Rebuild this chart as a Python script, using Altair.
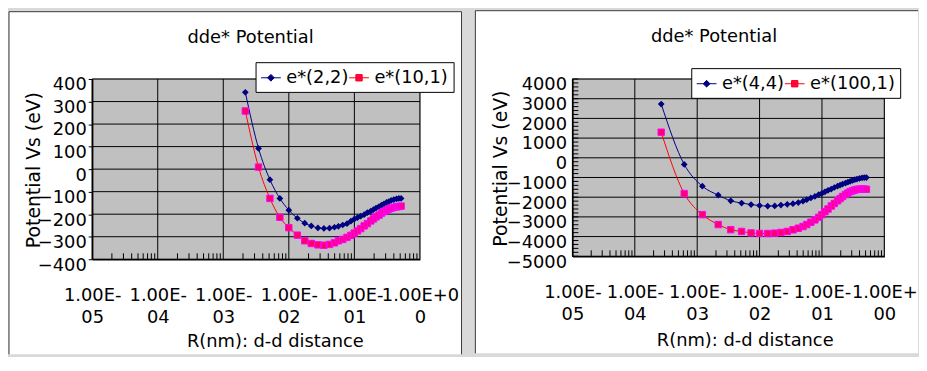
import altair as alt
import pandas as pd

FONT = "DejaVu Sans"
NAVY = "#000080"
RED = "#ff0000"
PINK = "#ff0066"
MAGENTA = "#ff00ff"

# ---------------- data ----------------
R_nm = [2.65e-4, 6.2e-4, 1.21e-3, 2.17e-3, 3.45e-3, 5.15e-3, 7.3e-3, 0.01, 0.0135,
        0.0175, 0.022, 0.0278, 0.0343, 0.0418, 0.0497, 0.0571, 0.0664, 0.0771,
        0.0885, 0.0995, 0.1117, 0.125, 0.141, 0.158, 0.178, 0.195, 0.214, 0.238,
        0.26, 0.283, 0.31, 0.336, 0.364, 0.40, 0.44, 0.477, 0.516]

left_names = ["e*(2,2)", "e*(10,1)"]
left_R = R_nm[3:]
left_blue = [341, 92, -47, -130, -182, -218, -240, -252, -261, -263, -262, -258,
             -254, -248, -242, -231, -222, -215, -209, -202, -193, -186, -180,
             -173, -166, -160, -154, -148, -144, -139, -135, -132, -130, -130]
left_pink = [258, 9, -130, -214, -260, -293, -318, -330, -336, -338, -334, -327,
             -318, -312, -303, -294, -284, -274, -264, -252, -242, -230, -221,
             -212, -204, -195, -188, -182, -177, -173, -170, -167, -166, -164]

right_names = ["e*(4,4)", "e*(100,1)"]
right_R = R_nm
right_blue = [2730, -337, -1443, -1895, -2182, -2298, -2375, -2425, -2450, -2445,
              -2400, -2364, -2330, -2272, -2200, -2126, -2036, -1962, -1872, -1811,
              -1730, -1650, -1585, -1508, -1433, -1390, -1335, -1285, -1240, -1197,
              -1150, -1108, -1080, -1045, -1015, -1010, -1005]
right_pink = [1300, -1815, -2886, -3389, -3650, -3740, -3815, -3841, -3845, -3826,
              -3791, -3740, -3655, -3575, -3489, -3389, -3273, -3152, -3022, -2886,
              -2735, -2600, -2448, -2318, -2182, -2070, -1965, -1865, -1790, -1715,
              -1675, -1635, -1605, -1590, -1585, -1590, -1600]

x_ticks = [1e-5, 1e-4, 1e-3, 1e-2, 1e-1, 1.0]
left_xlabels = [["1.00E-", "05"], ["1.00E-", "04"], ["1.00E-", "03"],
                ["1.00E-", "02"], ["1.00E-", "01"], ["1.00E+0", "0"]]
right_xlabels = [["1.00E-", "05"], ["1.00E-", "04"], ["1.00E-", "03"],
                 ["1.00E-", "02"], ["1.00E-", "01"], ["1.00E+", "00"]]
x_minor = [m * 10.0 ** e for e in range(-5, 0) for m in range(2, 10)]

left_yticks = [-400, -300, -200, -100, 0, 100, 200, 300, 400]
right_yticks = [-5000, -4000, -3000, -2000, -1000, 0, 1000, 2000, 3000, 4000]
right_yminor = list(range(-5000, 4001, 200))

title_text = "dde* Potential"
y_title = "Potential Vs (eV)"
x_title = "R(nm): d-d distance"

# legend/marker symbols: a line segment (stroked only in the legend) plus a filled marker
DIAMOND = "M-1,0H1M-0.34,0L0,-0.34L0.34,0L0,0.34Z"
SQUARE = "M-1,0H1M-0.32,-0.32H0.32V0.32H-0.32Z"


def label_expr(labels):
    parts = []
    for v, (a, b) in zip(x_ticks, labels):
        parts.append(f"abs(datum.value - {v!r}) < {v * 0.01!r} ? ['{a}', '{b}']")
    return " : ".join(parts) + " : ''"


def make_panel(R, s1, s2, names, yticks, ydom, yminor, xlabels, L):
    W, H = L["W"], L["H"]
    n = len(R)
    df = pd.DataFrame({"R": R + R, "V": s1 + s2,
                       "series": [names[0]] * n + [names[1]] * n})
    df2 = pd.DataFrame({"R": R, "V": s2})
    one = pd.DataFrame({"k": [0]})
    xs = alt.Scale(type="log", domain=[1e-5, 1.0], nice=False)
    ys = alt.Scale(domain=ydom, nice=False, zero=False)
    bx0, bx1, by0, by1 = L["box"]

    xaxis = alt.Axis(values=x_ticks, labelExpr=label_expr(xlabels), grid=False, ticks=False,
                     domainColor="black", domainWidth=1.5, labelFont=FONT, labelFontSize=18,
                     labelColor="black", labelLineHeight=22, labelPadding=28,
                     labelBaseline="top", labelAlign="center", labelFlush=False,
                     labelOverlap=False, title=x_title, titleFont=FONT, titleFontSize=18,
                     titleFontWeight="normal", titleColor="black", titleX=L["xtX"],
                     titleY=L["xtY"], titleBaseline="middle", zindex=1)
    yaxis = alt.Axis(values=yticks, format="d", grid=False, ticks=L["yTicks"], tickSize=4,
                     tickColor="black", domainColor="black", domainWidth=1.5,
                     labelFont=FONT, labelFontSize=18, labelColor="black",
                     labelPadding=L["yPad"], labelBaseline="middle", labelOffset=6,
                     labelOverlap=False, title=y_title, titleFont=FONT, titleFontSize=19,
                     titleFontWeight="normal", titleColor="black", titleX=L["ytX"],
                     titleY=L["ytY"], titleBaseline="middle", zindex=1)

    def X(field="R"):
        return alt.X(f"{field}:Q", scale=xs, axis=xaxis)

    def Y(field="V"):
        return alt.Y(f"{field}:Q", scale=ys, axis=yaxis)

    layers = [alt.Chart(one).mark_rect(fill="white").encode(
        x=alt.value(bx0), x2=alt.value(bx1), y=alt.value(by0), y2=alt.value(by1))]
    for edge in L["edges"]:
        if edge == "left":
            enc = dict(x=alt.value(bx0), y=alt.value(by0), y2=alt.value(by1))
        elif edge == "right":
            enc = dict(x=alt.value(bx1), y=alt.value(by0), y2=alt.value(by1))
        else:
            enc = dict(x=alt.value(bx0), x2=alt.value(bx1), y=alt.value(by0))
        layers.append(alt.Chart(one).mark_rule(color="#3a3a3a", strokeWidth=1).encode(**enc))

    # chart title
    layers.append(alt.Chart(one).mark_text(font=FONT, fontSize=18, color="black",
                                           align="center", baseline="middle").encode(
        text=alt.value(title_text), x=alt.value(L["tX"]), y=alt.value(L["tY"])))

    layers.append(alt.Chart(one).mark_rect(fill="#c0c0c0", stroke="#808080", strokeWidth=1).encode(
        x=alt.value(0), x2=alt.value(W), y=alt.value(0), y2=alt.value(H)))
    layers.append(alt.Chart(pd.DataFrame({"V": yticks})).mark_rule(color="black", strokeWidth=1).encode(
        y=Y(), x=alt.value(0), x2=alt.value(W)))
    layers.append(alt.Chart(pd.DataFrame({"R": x_ticks})).mark_rule(color="black", strokeWidth=1).encode(
        x=X(), y=alt.value(0), y2=alt.value(H)))
    layers.append(alt.Chart(pd.DataFrame({"R": x_minor})).mark_rule(color="black", strokeWidth=1).encode(
        x=X(), y=alt.value(H - 6), y2=alt.value(H)))
    if yminor:
        layers.append(alt.Chart(pd.DataFrame({"V": yminor})).mark_rule(color="black", strokeWidth=1).encode(
            y=Y(), x=alt.value(0), x2=alt.value(6)))

    leg = alt.Legend(title=None, orient="none", legendX=L["legX"], legendY=L["legY"],
                     direction="horizontal", fillColor="white", strokeColor="black",
                     padding=5, labelFont=FONT, labelFontSize=18, labelColor="black",
                     symbolSize=400, symbolStrokeWidth=1, symbolOffset=0, labelOffset=5,
                     columnPadding=L["colPad"])

    layers.append(alt.Chart(df).mark_line(interpolate="monotone", strokeWidth=1).encode(
        x=X(), y=Y(),
        stroke=alt.Stroke("series:N", scale=alt.Scale(domain=names, range=[NAVY, RED]), legend=leg),
    ))
    layers.append(alt.Chart(df).mark_point(filled=True, size=400, opacity=1).encode(
        x=X(), y=Y(),
        fill=alt.Fill("series:N", scale=alt.Scale(domain=names, range=[NAVY, PINK]), legend=leg),
        shape=alt.Shape("series:N", scale=alt.Scale(domain=names, range=[DIAMOND, SQUARE]), legend=leg),
    ))
    layers.append(alt.Chart(df2).mark_point(shape="square", filled=False, size=42,
                                            stroke=MAGENTA, strokeWidth=1, opacity=1).encode(
        x=X(), y=Y(),
    ))

    return alt.layer(*layers).properties(width=W, height=H)


left = make_panel(left_R, left_blue, left_pink, left_names, left_yticks, [-400, 400], None,
                  left_xlabels,
                  dict(W=331, H=182, box=(-84, 373, -68, 278), edges=["left", "top", "right"],
                       legX=165, legY=-17, colPad=-8, xtX=184.5, xtY=83, ytX=-59, ytY=91.5,
                       yTicks=True, yPad=2, tX=160, tY=-41))
right = make_panel(right_R, right_blue, right_pink, right_names, right_yticks, [-5000, 4000],
                   right_yminor, right_xlabels,
                   dict(W=315, H=179, box=(-98, 349, -69, 277), edges=["left", "top"],
                        legX=120, legY=-11, colPad=-2, xtX=174, xtY=85, ytX=-73, ytY=90,
                        yTicks=False, yPad=6, tX=143, tY=-42))

chart = alt.hconcat(left, right, spacing=12).resolve_scale(
    stroke="independent", fill="independent", shape="independent"
).resolve_legend(
    stroke="independent", fill="independent", shape="independent"
).properties(padding=0).configure(
    background="#d9d9d9", font=FONT
).configure_view(strokeWidth=0)

chart.save("out.html", embed_options={"renderer": "svg", "actions": False})
